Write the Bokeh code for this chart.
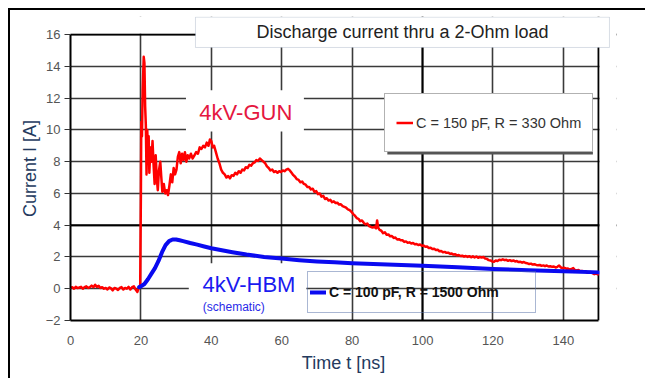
from bokeh.plotting import figure
from bokeh.models import (Range1d, FixedTicker, Label, Legend, LegendItem, BoxAnnotation, Span)
from bokeh.embed import file_html
from bokeh.resources import INLINE

# ---------------- data ----------------
x_ticks = [0, 20, 40, 60, 80, 100, 120, 140]
y_ticks = [-2, 0, 2, 4, 6, 8, 10, 12, 14, 16]

gun_t = [0, 0.5, 1, 1.5, 2, 2.5, 3, 3.5, 4, 4.5, 5, 5.5, 6, 6.5, 7, 7.5, 8, 8.5, 9, 9.5,
         10, 10.5, 11, 11.5, 12, 12.5, 13, 13.5, 14, 14.5, 15, 15.5, 16, 16.5, 17, 17.5, 18, 18.5, 19, 19.5, 19.8,
         20.0, 20.1, 20.3, 20.5, 20.8, 21.0, 21.2, 21.4, 21.6, 21.8, 22.0, 22.2, 22.4, 22.7, 23.0, 23.3, 23.6, 23.9,
         24.2, 24.5, 24.8, 25.1, 25.5, 25.8, 26.1, 26.5, 26.9, 27.3, 27.7, 28.1, 28.5, 28.9, 29.3, 29.7, 30.1, 30.5,
         30.9, 31.3, 31.7, 32.1, 32.5, 32.9, 33.3, 33.7, 34.2, 34.7, 35.2, 35.7, 36.2, 36.7, 37.2, 37.7, 38.2, 38.7,
         39.2, 39.6, 40.0, 40.4, 40.8, 41.3, 41.8, 42.3, 42.8, 43.3, 43.8, 44.3, 44.8, 45.3, 45.8, 46.3, 46.8, 47.3,
         47.8, 48.3, 48.8, 49.3, 49.8, 50.3, 50.8, 51.3, 51.8, 52.3, 52.8, 53.3, 53.8, 54.3, 54.8, 55.3, 55.8, 56.3,
         56.8, 57.3, 57.8, 58.3, 58.8, 59.3, 59.8, 60.3, 60.8, 61.3, 61.8, 62.3, 62.8, 63.3, 63.8, 64.3, 64.8, 65.3,
         65.8, 66.3, 66.8, 67.3, 67.8, 68.3, 68.8, 69.3, 69.8, 70.3, 70.8, 71.3, 71.8, 72.3, 72.8, 73.3, 73.8, 74.3,
         74.8, 75.3, 75.8, 76.3, 76.8, 77.3, 77.8, 78.3, 78.8, 79.3, 79.8, 80.3, 80.8, 81.3, 81.8, 82.3, 82.8, 83.3,
         83.8, 84.3, 84.8, 85.3, 85.8, 86.3, 86.8, 87.1, 87.4, 87.8, 88.3, 88.8, 89.3, 89.8, 90.3, 90.8, 91.3, 91.8,
         92.3, 92.8, 93.3, 93.8, 94.3, 94.8, 95.3, 95.8, 96.3, 96.8, 97.3, 97.8, 98.3, 98.8, 99.3, 99.8, 100.3, 100.8,
         101.3, 101.8, 102.3, 102.8, 103.3, 103.8, 104.3, 104.8, 105.3, 105.8, 106.3, 106.8, 107.3, 107.8, 108.3,
         108.8, 109.3, 109.8, 110.3, 110.8, 111.3, 111.8, 112.3, 112.8, 113.3, 113.8, 114.3, 114.8, 115.3, 115.8,
         116.3, 116.8, 117.3, 117.8, 118.3, 118.8, 119.3, 119.8, 120.3, 120.8, 121.3, 121.8, 122.3, 122.8, 123.3,
         123.8, 124.3, 124.8, 125.3, 125.8, 126.3, 126.8, 127.3, 127.8, 128.3, 128.8, 129.3, 129.8, 130.3, 130.8,
         131.3, 131.8, 132.3, 132.8, 133.3, 133.8, 134.3, 134.8, 135.3, 135.8, 136.3, 136.8, 137.3, 137.8, 138.3,
         138.8, 139.3, 139.8, 140.3, 140.8, 141.3, 141.8, 142.3, 142.8, 143.3, 143.8, 144.3, 144.8, 145.3, 145.8,
         146.3, 146.8, 147.3, 147.8, 148.3, 148.8, 149.3, 149.8, 150]
gun_i = [0.05, 0.1, 0.0, 0.12, 0.05, 0.08, 0.12, 0.0, 0.1, 0.15, 0.05, 0.1, 0.2, 0.1, 0.25, 0.12, 0.18, 0.05, 0.1, 0.0,
         0.05, -0.05, 0.08, 0.02, -0.1, 0.05, 0.0, -0.08, 0.05, 0.1, -0.05, 0.05, 0.0, 0.12, -0.05, 0.1, 0.15, -0.05, -0.2, 0.1, 0.2,
         6.0, 10.5, 9.6, 12.5, 14.6, 14.2, 11.5, 10.3, 7.2, 10.0, 8.8, 9.6, 7.3, 8.9, 8.0, 9.3, 7.8, 6.6,
         8.4, 7.0, 6.2, 7.4, 8.0, 7.0, 6.1, 6.6, 6.0, 6.2, 5.9, 6.5, 7.2, 6.7, 7.6, 7.2, 7.5, 8.3,
         8.6, 7.9, 8.5, 8.1, 8.6, 8.0, 8.4, 8.2, 8.5, 8.2, 8.4, 8.6, 8.5, 8.9, 8.8, 9.0, 8.9, 9.2,
         9.0, 9.4, 9.3, 8.9, 9.0, 8.6, 8.2, 7.9, 7.5, 7.3, 7.2, 7.0, 7.1, 6.95, 7.15, 7.1, 7.3, 7.2,
         7.4, 7.3, 7.5, 7.45, 7.65, 7.6, 7.8, 7.75, 7.9, 7.95, 8.1, 8.05, 8.2, 8.1, 8.0, 7.9, 7.7, 7.6,
         7.45, 7.5, 7.35, 7.4, 7.3, 7.4, 7.35, 7.45, 7.4, 7.5, 7.55, 7.45, 7.3, 7.15, 7.05, 6.9, 6.85, 6.7,
         6.75, 6.6, 6.55, 6.4, 6.4, 6.25, 6.3, 6.1, 6.15, 5.95, 6.0, 5.8, 5.85, 5.65, 5.7, 5.55, 5.6, 5.45,
         5.5, 5.4, 5.42, 5.3, 5.32, 5.2, 5.15, 5.1, 5.0, 4.95, 4.85, 4.7, 4.6, 4.45, 4.4, 4.25, 4.3, 4.15,
         4.05, 4.1, 3.95, 3.9, 3.85, 3.9, 3.8, 4.3, 3.85, 3.7, 3.65, 3.5, 3.55, 3.4, 3.42, 3.3, 3.32, 3.2,
         3.22, 3.1, 3.12, 3.05, 3.05, 2.95, 2.98, 2.9, 2.92, 2.85, 2.88, 2.8, 2.82, 2.75, 2.78, 2.7, 2.72, 2.64,
         2.66, 2.56, 2.58, 2.5, 2.52, 2.44, 2.46, 2.36, 2.38, 2.3, 2.32, 2.26, 2.27, 2.2, 2.22,
         2.15, 2.17, 2.1, 2.12, 2.06, 2.08, 2.02, 2.06, 2.0, 2.05, 1.98, 2.04, 1.97, 2.03, 1.95,
         2.0, 1.96, 2.0, 1.9, 1.88, 1.8, 1.78, 1.72, 1.7, 1.78, 1.74, 1.82, 1.8, 1.85, 1.8,
         1.82, 1.76, 1.8, 1.74, 1.78, 1.72, 1.74, 1.68, 1.7, 1.64, 1.68, 1.62, 1.6, 1.56, 1.58,
         1.52, 1.54, 1.5, 1.48, 1.5, 1.44, 1.47, 1.42, 1.46, 1.4, 1.42, 1.38, 1.4, 1.34, 1.38,
         1.46, 1.34, 1.3, 1.32, 1.26, 1.28, 1.2, 1.24, 1.3, 1.18, 1.15, 1.18, 1.1, 1.12, 1.08,
         1.1, 1.0, 1.04, 1.06, 0.98, 0.92, 0.96, 0.9, 0.95]

hbm_t = [19.5, 20, 21, 22, 23, 24, 25, 26, 27, 28, 29, 30, 31, 32, 34, 36, 38, 40, 43, 46, 50, 55,
         60, 65, 70, 75, 80, 90, 100, 110, 120, 130, 140, 150]
hbm_i = [0.1, 0.15, 0.3, 0.6, 0.95, 1.3, 1.75, 2.3, 2.75, 3.0, 3.1, 3.1, 3.05, 3.0, 2.88, 2.78, 2.66, 2.55,
         2.42, 2.3, 2.15, 2.0, 1.9, 1.8, 1.72, 1.66, 1.6, 1.52, 1.45, 1.35, 1.25, 1.17, 1.1, 1.03]

title_text = "Discharge current thru a 2-Ohm load"
gun_label = "C = 150 pF, R = 330 Ohm"
hbm_label = "C = 100 pF, R = 1500 Ohm"

FONT = "Liberation Sans"
X_END, Y_END = 150, 16          # end of the drawn axes

# the frame is a little larger than the axes so the title box can overlap it
p = figure(width=637, height=370, output_backend="svg", toolbar_location=None,
           x_range=Range1d(0, 155.1), y_range=Range1d(-2, 17.14),
           min_border_left=60, min_border_right=31, min_border_top=6, min_border_bottom=60)
p.styles = {"margin-left": "8px", "margin-top": "8px",
            "border-left": "2px solid black", "border-top": "2px solid black"}
p.background_fill_color = "white"
p.border_fill_color = "white"
p.outline_line_color = None

# axes
p.xaxis.ticker = FixedTicker(ticks=x_ticks)
p.yaxis.ticker = FixedTicker(ticks=y_ticks)
p.xaxis.bounds = (0, X_END)
p.yaxis.bounds = (-2, Y_END)
for ax in (p.xaxis[0], p.yaxis[0]):
    ax.axis_line_color = "black"
    ax.axis_line_width = 2
    ax.minor_tick_line_color = None
    ax.major_label_text_font = FONT
    ax.major_label_text_font_size = "13px"
    ax.major_label_text_color = "#555555"
    ax.axis_label_text_font = FONT
    ax.axis_label_text_font_style = "normal"
    ax.axis_label_text_font_size = "18px"
    ax.axis_label_text_color = "#243A5E"
p.xaxis.major_tick_out = 0
p.xaxis.major_tick_in = 0
p.xaxis.major_label_standoff = 15
p.xaxis.axis_label = "Time t [ns]"
p.xaxis.axis_label_standoff = 5
p.yaxis.major_tick_out = 6
p.yaxis.major_tick_in = 0
p.yaxis.major_tick_line_color = "#333333"
p.yaxis.major_label_standoff = 4
p.yaxis.axis_label = "Current I [A]"
p.yaxis.axis_label_standoff = 3

p.grid.grid_line_color = "#3A3A3A"
p.grid.grid_line_width = 1.6
for loc, dim in ((4, "width"), (100, "height"), (Y_END, "width"), (X_END, "height")):
    p.add_layout(Span(location=loc, dimension=dim, line_color="black", line_width=2, level="underlay"))

# white boxes behind the series names
p.add_layout(BoxAnnotation(left=32.8, right=66.3, bottom=9.9, top=12.5, fill_color="white",
                           fill_alpha=1, line_color=None, level="underlay"))
p.add_layout(BoxAnnotation(left=33.6, right=67.0, bottom=-2, top=1.6, fill_color="white",
                           fill_alpha=1, line_color=None, level="underlay"))

# series
r_gun = p.line(gun_t, gun_i, line_color="#FF0000", line_width=2.5, line_join="round")
r_hbm = p.line(hbm_t, hbm_i, line_color="#0A0AF0", line_width=4, line_join="round", line_cap="round")

# blank out the margin strips of the frame outside the axes
p.add_layout(BoxAnnotation(bottom=Y_END + 0.07, fill_color="white", fill_alpha=1, line_color=None,
                           level="annotation"))
p.add_layout(BoxAnnotation(left=X_END + 0.3, fill_color="white", fill_alpha=1, line_color=None,
                           level="annotation"))

# shadow of the first legend box
p.add_layout(BoxAnnotation(left=90.0, right=148.4, bottom=8.45, top=12.0, fill_color="#555555",
                           fill_alpha=1, line_color=None, level="annotation"))

# legends
leg1 = Legend(items=[LegendItem(label=gun_label, renderers=[r_gun])], location=(314, 168),
              padding=11, margin=0, spacing=0, glyph_width=17, glyph_height=35, label_height=35,
              label_standoff=3, label_text_font=FONT, label_text_font_size="14.5px",
              label_text_color="#333333", border_line_color="#666666", border_line_width=1,
              background_fill_color="white", background_fill_alpha=1)
p.add_layout(leg1, "center")
leg2 = Legend(items=[LegendItem(label=hbm_label, renderers=[r_hbm])], location=(237, 7),
              padding=2, margin=0, spacing=0, glyph_width=16, glyph_height=36, label_height=36,
              label_width=204, label_standoff=3, label_text_font=FONT, label_text_font_size="14px",
              label_text_font_style="bold", label_text_color="#111111",
              border_line_color="#5570A8", border_line_width=1, background_fill_alpha=0)
p.add_layout(leg2, "center")

# title box and texts
p.add_layout(BoxAnnotation(left=35.5, right=153.1, bottom=15.19, top=17.1, fill_color="white",
                           fill_alpha=1, line_color="#7F8FA8", line_width=1, level="annotation"))
p.add_layout(Label(x=94.3, y=16.14, text=title_text, text_align="center", text_baseline="middle",
                   text_font=FONT, text_font_size="18px", text_color="#222222"))
p.add_layout(Label(x=49.8, y=11.1, text="4kV-GUN", text_align="center", text_baseline="middle",
                   text_font=FONT, text_font_size="22px", text_color="#E5173F"))
p.add_layout(Label(x=50.7, y=0.28, text="4kV-HBM", text_align="center", text_baseline="middle",
                   text_font=FONT, text_font_size="22px", text_color="#1A1AF0"))
p.add_layout(Label(x=46.4, y=-1.15, text="(schematic)", text_align="center", text_baseline="middle",
                   text_font=FONT, text_font_size="12px", text_color="#2A2AE8"))

open("out.html", "w").write(file_html(p, INLINE))
